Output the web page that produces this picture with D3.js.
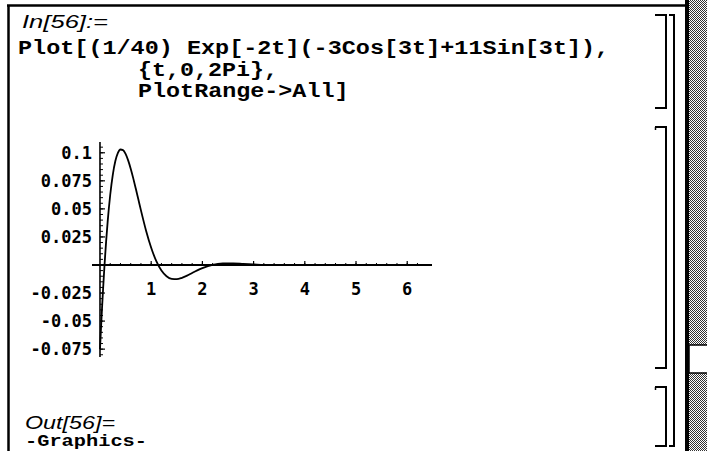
<!DOCTYPE html>
<html><head><meta charset="utf-8">
<script src="https://cdn.jsdelivr.net/npm/d3@7"></script>
<style>html,body{margin:0;padding:0;background:#fff;overflow:hidden}</style>
</head><body>
<script>
// ---- data ----
const tValues = [0, 0.02, 0.04, 0.06, 0.08, 0.1, 0.12, 0.15, 0.2, 0.25, 0.3, 0.35, 0.4, 0.45, 0.5, 0.55, 0.6, 0.65, 0.7, 0.75, 0.8, 0.9, 1.0, 1.1, 1.2, 1.3, 1.4, 1.5, 1.6, 1.7, 1.8, 1.9, 2.0, 2.2, 2.4, 2.6, 2.8, 3.0, 3.2, 3.5, 4.0, 4.5, 5.0, 5.5, 6.0, 6.283];
const yValues = [-0.075, -0.0561, -0.0384, -0.0218, -0.0064, 0.0079, 0.0210, 0.0386, 0.0626, 0.0804, 0.0926, 0.0999, 0.1029, 0.1024, 0.0990, 0.0932, 0.0858, 0.0772, 0.0679, 0.0583, 0.0487, 0.0306, 0.0154, 0.0034, -0.0049, -0.0100, -0.0123, -0.0126, -0.0114, -0.0095, -0.0071, -0.0048, -0.0028, 0.0002, 0.0014, 0.0015, 0.0010, 0.0005, 0.0000, -0.0002, -0.0001, 0, 0, 0, 0, 0];
const xTicks = [1, 2, 3, 4, 5, 6];
const xTickLabels = ["1", "2", "3", "4", "5", "6"];
const yTicks = [0.1, 0.075, 0.05, 0.025, -0.025, -0.05, -0.075];
const yTickLabels = ["0.1", "0.075", "0.05", "0.025", "-0.025", "-0.05", "-0.075"];
const inputLabel = "In[56]:=";
const codeLines = ["Plot[(1/40) Exp[-2t](-3Cos[3t]+11Sin[3t]),", "{t,0,2Pi},", "PlotRange->All]"];
const outputLabel = "Out[56]=";
const outputText = "-Graphics-";

const W = 707, H = 451;
const svg = d3.select("body").append("svg").attr("width", W).attr("height", H);

// pattern for scrollbar
const defs = svg.append("defs");
const pat = defs.append("pattern").attr("id", "dots").attr("width", 2).attr("height", 2).attr("patternUnits", "userSpaceOnUse");
pat.append("rect").attr("width", 2).attr("height", 2).attr("fill", "#fff");
pat.append("rect").attr("width", 1).attr("height", 1).attr("fill", "#000");
pat.append("rect").attr("x", 1).attr("y", 1).attr("width", 1).attr("height", 1).attr("fill", "#000");

// notebook frame
svg.append("line").attr("x1", 7).attr("x2", 687).attr("y1", 5.5).attr("y2", 5.5).attr("stroke", "#000").attr("stroke-width", 2.5);
svg.append("line").attr("x1", 8.5).attr("x2", 8.5).attr("y1", 5).attr("y2", H).attr("stroke", "#000").attr("stroke-width", 2.5);
// scrollbar
svg.append("rect").attr("x", 689).attr("y", 0).attr("width", 18).attr("height", H).attr("fill", "url(#dots)").attr("opacity", 0.8);
svg.append("rect").attr("x", 685).attr("y", 0).attr("width", 4).attr("height", H).attr("fill", "#000");
svg.append("rect").attr("x", 689).attr("y", 345).attr("width", 20).attr("height", 28).attr("fill", "#fff").attr("stroke", "#000").attr("stroke-width", 1.5);

// cell brackets
function bracket(x, y1, y2, hook, stub) {
  const p = d3.path();
  p.moveTo(x - hook, y1); p.lineTo(x, y1); p.lineTo(x, y2); p.lineTo(x - hook, y2);
  svg.append("path").attr("d", p.toString()).attr("fill", "none").attr("stroke", "#000").attr("stroke-width", 2);
  if (stub) svg.append("line").attr("x1", x - hook + 0.5).attr("x2", x - hook + 0.5).attr("y1", y1).attr("y2", y1 + 3).attr("stroke", "#000").attr("stroke-width", 1.5);
}
bracket(666, 15, 108, 11, false);
bracket(666, 127, 368, 11, true);
bracket(666, 387, 446, 11, true);
bracket(674, 15, 446, 5, false);

// texts
svg.append("text").attr("x", 22).attr("y", 28).attr("font-family", "Liberation Sans").attr("font-style", "italic")
  .attr("font-size", 18).attr("textLength", 86).attr("lengthAdjust", "spacingAndGlyphs").text(inputLabel);
const codeX = [18, 138, 138], codeY = [54, 76, 97];
codeLines.forEach((s, i) => {
  svg.append("text").attr("x", codeX[i]).attr("y", codeY[i]).attr("font-family", "Liberation Mono").attr("font-weight", "bold")
    .attr("font-size", 20).attr("textLength", s.length * 14.1 - 1).attr("lengthAdjust", "spacingAndGlyphs").text(s);
});
svg.append("text").attr("x", 25).attr("y", 429).attr("font-family", "Liberation Sans").attr("font-style", "italic")
  .attr("font-size", 18).attr("textLength", 90).attr("lengthAdjust", "spacingAndGlyphs").text(outputLabel);
svg.append("text").attr("x", 25).attr("y", 446).attr("font-family", "Liberation Mono").attr("font-weight", "bold")
  .attr("font-size", 17).attr("textLength", 122).attr("lengthAdjust", "spacingAndGlyphs").text(outputText);

// plot
const x = d3.scaleLinear().domain([-0.156, 6.484]).range([92, 432]);
const y = d3.scaleLinear().domain([-0.082, 0.1096]).range([357, 142]);
const g = svg.append("g");

// x axis
g.append("line").attr("x1", x.range()[0]).attr("x2", x.range()[1]).attr("y1", y(0)).attr("y2", y(0)).attr("stroke", "#000").attr("stroke-width", 2);
const xMinor = d3.range(0.2, 6.4, 0.2);
g.selectAll(".xmin").data(xMinor).join("line").attr("x1", d => x(d)).attr("x2", d => x(d)).attr("y1", y(0)).attr("y2", y(0) - 2).attr("stroke", "#000").attr("stroke-width", 1);
g.selectAll(".xmaj").data(xTicks).join("line").attr("x1", d => x(d)).attr("x2", d => x(d)).attr("y1", y(0)).attr("y2", y(0) - 4).attr("stroke", "#000").attr("stroke-width", 1.2);
g.selectAll(".xlab").data(xTicks).join("text").attr("x", d => x(d)).attr("y", y(0) + 30).attr("text-anchor", "middle")
  .attr("font-family", "DejaVu Sans Mono").attr("font-weight", "bold").attr("font-size", 17).text((d, i) => xTickLabels[i]);

// y axis
g.append("line").attr("x1", x(0)).attr("x2", x(0)).attr("y1", y.range()[0]).attr("y2", y.range()[1]).attr("stroke", "#000").attr("stroke-width", 1.6);
const yMinor = d3.range(-16, 22).map(k => k * 0.005);
g.selectAll(".ymin").data(yMinor).join("line").attr("x1", x(0)).attr("x2", x(0) + 3).attr("y1", d => y(d)).attr("y2", d => y(d)).attr("stroke", "#000").attr("stroke-width", 1);
g.selectAll(".ymaj").data(yTicks).join("line").attr("x1", x(0)).attr("x2", x(0) + 5).attr("y1", d => y(d)).attr("y2", d => y(d)).attr("stroke", "#000").attr("stroke-width", 1.2);
g.selectAll(".ylab").data(yTicks).join("text").attr("x", 92).attr("y", d => y(d) + 6).attr("text-anchor", "end")
  .attr("font-family", "DejaVu Sans Mono").attr("font-weight", "bold").attr("font-size", 17).text((d, i) => yTickLabels[i]);

// curve
const pts = tValues.map((t, i) => [t, yValues[i]]);
const line = d3.line().x(d => x(d[0])).y(d => y(d[1])).curve(d3.curveMonotoneX);
g.append("path").datum(pts).attr("d", line).attr("fill", "none").attr("stroke", "#000").attr("stroke-width", 1.8);
</script>
</body></html>
